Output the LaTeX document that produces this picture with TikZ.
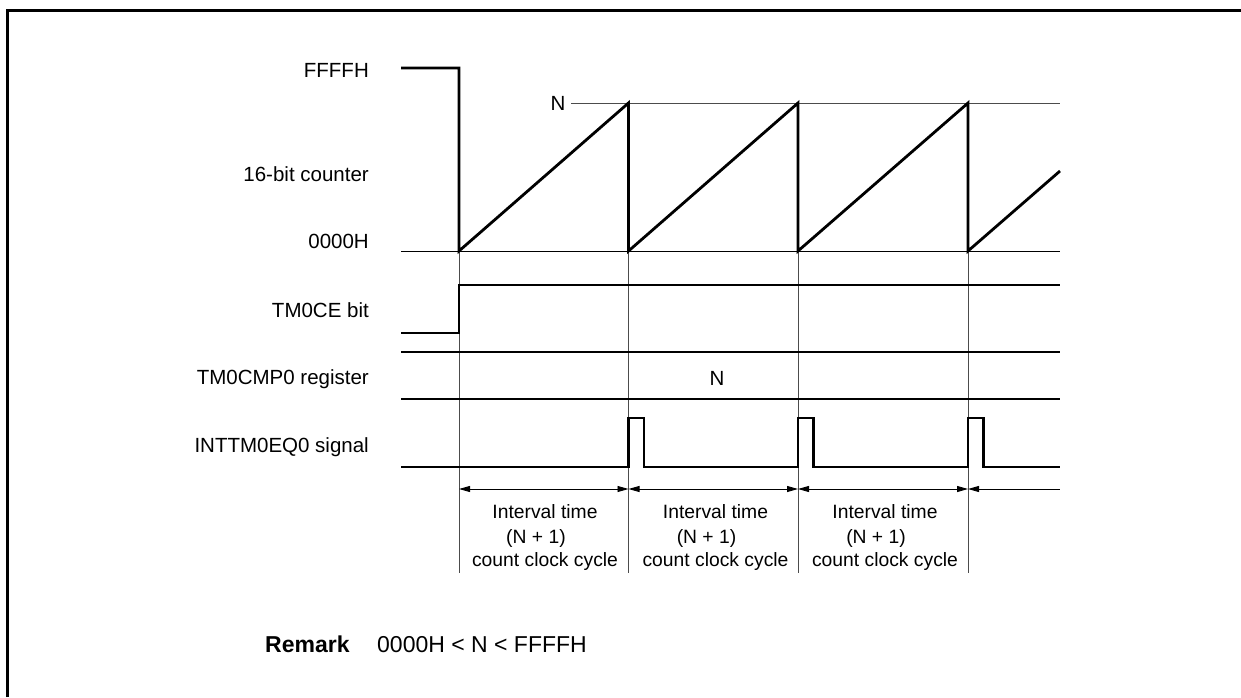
\documentclass[tikz,border=0pt]{standalone}
\usepackage{fontspec}
\setmainfont{Liberation Sans}
\usetikzlibrary{arrows.meta}
\begin{document}
\begin{tikzpicture}[x=1pt,y=-1pt,
  thickline/.style={line width=2.8pt, line join=miter},
  thinline/.style={line width=1pt, black!70},
  lbl/.style={font=\fontsize{20.5}{24}\selectfont, anchor=base east, inner sep=0pt},
  ival/.style={font=\fontsize{19.3}{23}\selectfont, anchor=base, inner sep=0pt},
  rmk/.style={font=\fontsize{23}{27}\selectfont, anchor=base west, inner sep=0pt},
  tip/.tip={Triangle[length=11pt,width=6pt]},
  dimline/.style={line width=0.9pt, tip-tip},
]
\useasboundingbox (0,0) rectangle (1241,697);
% frame
\draw[line width=3pt] (7.5,697) -- (7.5,10.5) -- (1241,10.5);

% thin vertical guides
\draw[thinline] (459,251) -- (459,573);
\foreach \x in {628.5,798,968} \draw[thinline] (\x,103) -- (\x,573);

% reference lines
\draw[thinline] (571,103) -- (1060,103);
\draw[line width=1pt] (401,251) -- (1060,251);

% 16-bit counter
\draw[thickline] (401,68) -- (459,68) -- (459,251) -- (628.5,103) -- (628.5,251)
  -- (798,103) -- (798,251) -- (968,103) -- (968,251) -- (1060,171);

% TM0CE bit
\draw[thickline] (401,333) -- (459,333) -- (459,285) -- (1060,285);

% TM0CMP0 register
\draw[thickline] (401,352) -- (1060,352);
\draw[thickline] (401,399) -- (1060,399);

% INTTM0EQ0 signal
\draw[thickline] (401,467) -- (628.5,467) -- (628.5,418) -- (644,418) -- (644,467)
  -- (798,467) -- (798,418) -- (813.5,418) -- (813.5,467)
  -- (968,467) -- (968,418) -- (983.5,418) -- (983.5,467) -- (1060,467);

% interval arrows
\draw[dimline] (459,489) -- (628.5,489);
\draw[dimline] (628.5,489) -- (798,489);
\draw[dimline] (798,489) -- (968,489);
\draw[line width=0.9pt, tip-] (968,489) -- (1060,489);

% labels
\node[lbl] (ffff) at (369,77) {FFFFH};
\node[lbl] (cnt) at (369,181) {16-bit counter};
\node[lbl] (zero) at (369,248) {0000H};
\node[lbl] (ce) at (369,317) {TM0CE bit};
\node[lbl] (cmp) at (369,384) {TM0CMP0 register};
\node[lbl] (int) at (369,452) {INTTM0EQ0 signal};
\node[font=\fontsize{20.5}{24}\selectfont, anchor=base, inner sep=0pt] (ntop) at (558,110) {N};
\node[font=\fontsize{20.5}{24}\selectfont, anchor=base, inner sep=0pt] (nreg) at (717,385) {N};

% interval texts
\foreach \c/\n in {545/a,715.5/b,885/c}{
  \node[ival] (it\n) at (\c,518) {Interval time};
  \node[ival] (nn\n) at (\c-9,543) {(N + 1)};
  \node[ival] (cc\n) at (\c,566) {count clock cycle};
}

% remark
\node[rmk] (rk) at (265,652) {\textbf{Remark}};
\node[rmk] (rv) at (377,652) {0000H < N < FFFFH};
\end{tikzpicture}
\end{document}
